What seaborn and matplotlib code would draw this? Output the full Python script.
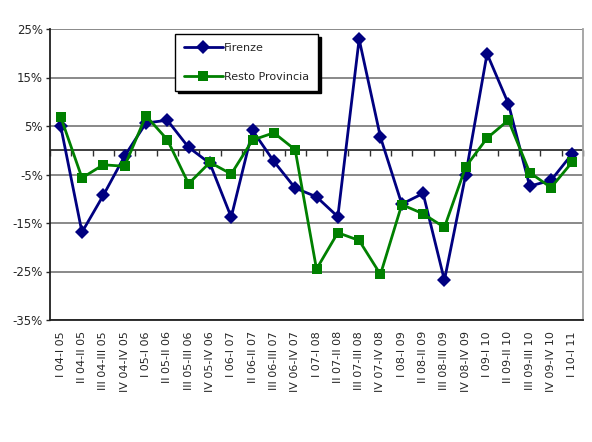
import numpy as np
import pandas as pd
import matplotlib
matplotlib.use("Agg")
import matplotlib.pyplot as plt
import seaborn as sns

periodi = ["I 04-I 05", "II 04-II 05", "III 04-III 05", "IV 04-IV 05",
           "I 05-I 06", "II 05-II 06", "III 05-III 06", "IV 05-IV 06",
           "I 06-I 07", "II 06-II 07", "III 06-III 07", "IV 06-IV 07",
           "I 07-I 08", "II 07-II 08", "III 07-III 08", "IV 07-IV 08",
           "I 08-I 09", "II 08-II 09", "III 08-III 09", "IV 08-IV 09",
           "I 09-I 10", "II 09-II 10", "III 09-III 10", "IV 09-IV 10",
           "I 10-I 11"]

firenze = [5.0, -16.9, -9.3, -1.2, 5.6, 6.2, 0.6, -2.7, -13.8, 4.1, -2.3, -7.8,
           -9.6, -13.7, 22.9, 2.7, -11.1, -8.9, -26.8, -5.0, 19.9, 9.6, -7.4, -6.2, -0.7]

resto = [6.9, -5.7, -3.0, -3.3, 7.1, 2.2, -6.9, -2.5, -4.9, 2.1, 3.6, 0.1,
         -24.5, -17.0, -18.6, -25.6, -11.2, -13.1, -15.9, -3.4, 2.5, 6.2, -4.6, -7.7, -2.4]

yticks = [25, 15, 5, -5, -15, -25, -35]

df = pd.DataFrame({
    "periodo": periodi * 2,
    "x": list(range(len(periodi))) * 2,
    "valore": firenze + resto,
    "serie": ["Firenze"] * len(periodi) + ["Resto Provincia"] * len(periodi),
})

sns.set_style("white")
plt.rcParams["font.family"] = ["DejaVu Sans"]

fig = plt.figure(figsize=(5.92, 4.42), dpi=100)
ax = fig.add_axes([50 / 592, 1 - 320 / 442, 533 / 592, 291 / 442])

for y in yticks:
    ax.axhline(y, color="#808080", lw=1.3, zorder=0)

sns.lineplot(data=df, x="x", y="valore", hue="serie", style="serie",
             palette={"Firenze": "#000080", "Resto Provincia": "#008000"},
             markers={"Firenze": "D", "Resto Provincia": "s"},
             dashes=False, markersize=7, markeredgewidth=0, linewidth=2,
             ax=ax, zorder=3)

ax.axhline(0, color="#303030", lw=1.3, zorder=1)

ax.set_xlim(-0.5, len(periodi) - 0.5)
ax.set_ylim(-35, 25)
ax.set_yticks(yticks)
ax.set_yticklabels([f"{v}%" for v in yticks], fontsize=8.5)
ax.set_xticks(range(len(periodi)))
ax.set_xticklabels(periodi, rotation=90, fontsize=8)
ax.tick_params(axis="x", length=0, pad=8)
ax.tick_params(axis="y", length=3, width=1, direction="out", left=True, pad=2)
ax.set_xlabel("")
ax.set_ylabel("")

for s in ["left", "bottom"]:
    ax.spines[s].set_color("#202020")
    ax.spines[s].set_linewidth(1.3)
ax.spines["top"].set_visible(False)
ax.spines["right"].set_color("#a0a0a0")
ax.spines["right"].set_linewidth(1.3)

# tick marks between categories on the zero line, pointing down
sec = ax.secondary_xaxis(35 / 60)
sec.set_xticks(np.arange(-0.5, len(periodi), 1.0))
sec.set_xticklabels([])
sec.tick_params(axis="x", length=4, width=1, direction="in", colors="#303030")
sec.spines["bottom"].set_visible(False)
sec.spines["top"].set_visible(False)

handles, labels = ax.get_legend_handles_labels()
leg = ax.legend(handles, labels, loc="upper left",
                bbox_to_anchor=((175 - 50) / 533, 1 - 5 / 291),
                borderaxespad=0, frameon=True, fancybox=False,
                shadow={"color": "black", "alpha": 1},
                edgecolor="black", fontsize=8, labelspacing=1.7,
                handlelength=3.5, handletextpad=0.1, borderpad=0.8)
leg.get_frame().set_linewidth(1)

fig.savefig("out.png", dpi=100)
